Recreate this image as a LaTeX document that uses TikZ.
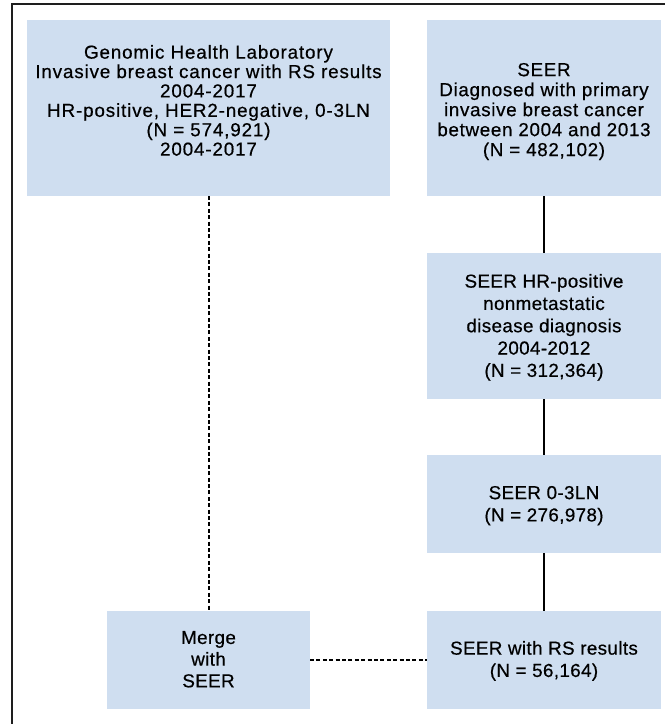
\documentclass[tikz,border=0pt]{standalone}
\usepackage{fontspec}
\setmainfont{Liberation Sans}[LetterSpace=2, FakeBold=0.5]
\definecolor{boxfill}{RGB}{207,222,240}
\definecolor{framecol}{RGB}{30,30,30}
\tikzset{
  flowbox/.style={draw=none, fill=boxfill, inner sep=0pt, outer sep=0pt},
  boxtext/.style={inner sep=0pt, outer sep=0pt, align=center, anchor=north, text=black},
  solidlink/.style={draw=black, line width=2pt},
  dashlink/.style={draw=black, line width=2pt, dash pattern=on 4pt off 2.4pt},
  framestyle/.style={draw=framecol, line width=1.8pt}
}
\begin{document}
\begin{tikzpicture}[x=1pt,y=-1pt]
\useasboundingbox (0,0) rectangle (665,724);
% frame
\coordinate (fbl) at (12,724);
\coordinate (ftl) at (12,4);
\coordinate (ftr) at (665,4);
\draw[framestyle] (fbl) -- (ftl) -- (ftr);
% boxes
\node[flowbox, minimum width=363pt, minimum height=176pt] (A) at (208.5,108) {};
\node[flowbox, minimum width=234pt, minimum height=176pt] (B) at (544,108) {};
\node[flowbox, minimum width=234pt, minimum height=146pt] (C) at (544,326) {};
\node[flowbox, minimum width=234pt, minimum height=98pt] (D) at (544,504) {};
\node[flowbox, minimum width=203pt, minimum height=98pt] (E) at (208.5,660) {};
\node[flowbox, minimum width=234pt, minimum height=98pt] (F) at (544,660) {};
% texts
\node[boxtext, font=\fontsize{18.8}{19.4}\selectfont\addfontfeatures{LetterSpace=4.6}] (At) at (208.5,45) {Genomic Health Laboratory\\Invasive breast cancer with RS results\\2004-2017\\HR-positive, HER2-negative, 0-3LN\\(N = 574,921)\\2004-2017};
\node[boxtext, font=\fontsize{18.8}{20}\selectfont\addfontfeatures{LetterSpace=3.6}] (Bt) at (544,63) {SEER\\Diagnosed with primary\\invasive breast cancer\\between 2004 and 2013\\(N = 482,102)};
\node[boxtext, font=\fontsize{18.8}{22.3}\selectfont] (Ct) at (544,274) {SEER HR-positive\\nonmetastatic\\disease diagnosis\\2004-2012\\(N = 312,364)};
\node[boxtext, font=\fontsize{18.8}{22.3}\selectfont] (Dt) at (544,486) {SEER 0-3LN\\(N = 276,978)};
\node[boxtext, font=\fontsize{18.8}{21.7}\selectfont] (Et) at (208.5,631) {Merge\\with\\SEER};
\node[boxtext, font=\fontsize{18.8}{22.3}\selectfont] (Ft) at (544,641) {SEER with RS results\\(N = 56,164)};
% connectors
\draw[solidlink] (B.south) -- (C.north);
\draw[solidlink] (C.south) -- (D.north);
\draw[solidlink] (D.south) -- (F.north);
\draw[dashlink] (A.south) -- (E.north);
\draw[dashlink] (E.east) -- (F.west);
\end{tikzpicture}
\end{document}
